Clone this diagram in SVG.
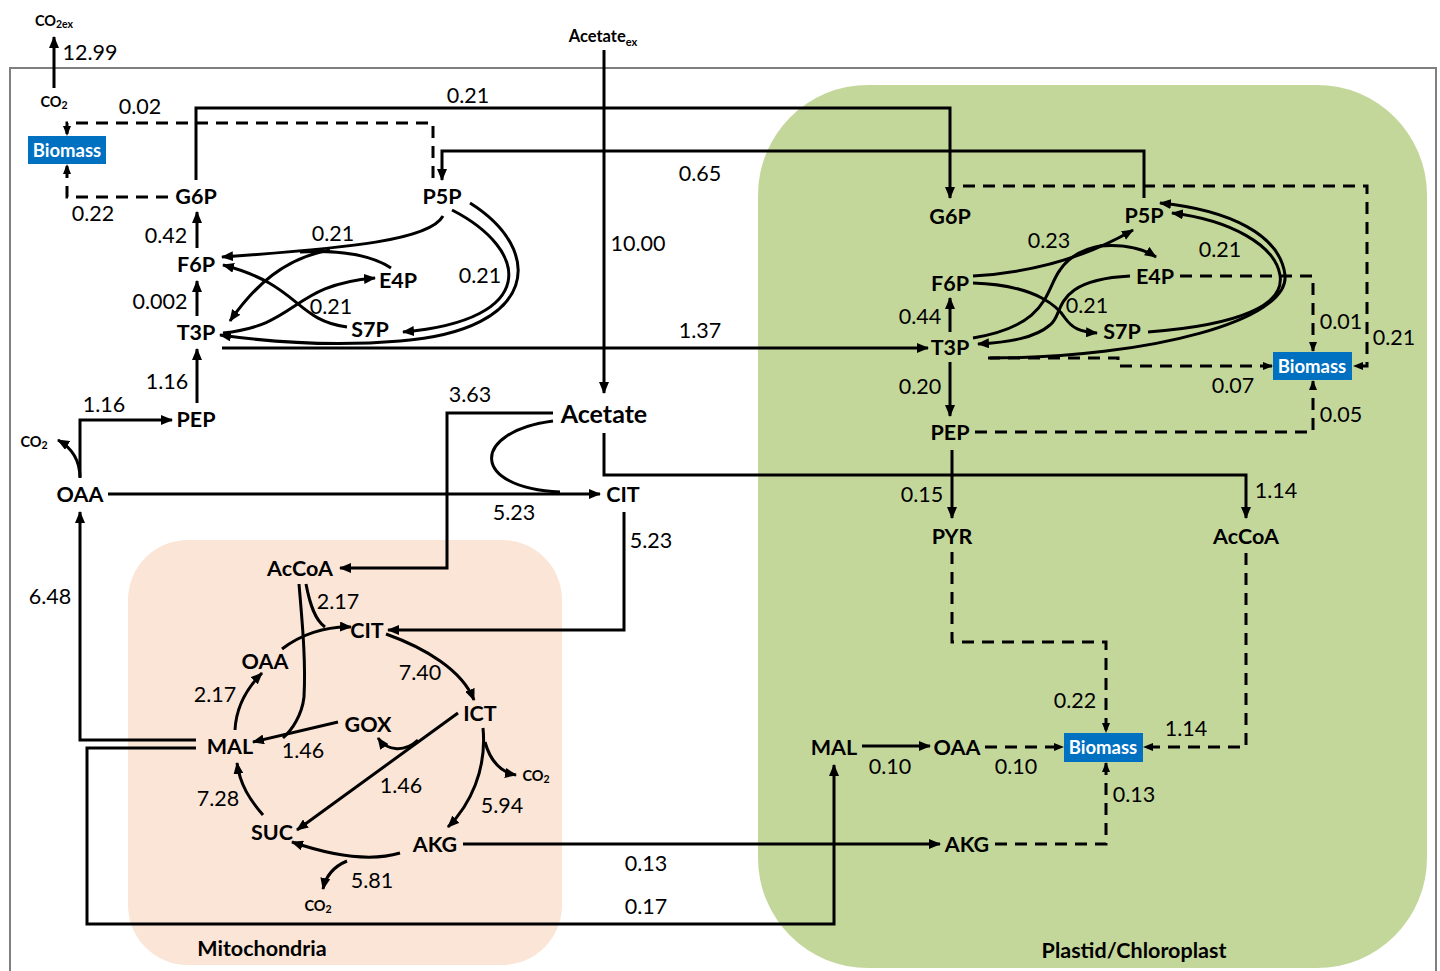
<svg xmlns="http://www.w3.org/2000/svg" width="1440" height="971" viewBox="0 0 1440 971">
<style>
.c{fill:none;stroke:#000;stroke-width:3}
.d{fill:none;stroke:#000;stroke-width:3;stroke-dasharray:12 8}
.n{font-family:Lato,"Open Sans",sans-serif;font-weight:700;font-size:21.5px;text-anchor:middle;dominant-baseline:central;fill:#000}
.s{font-family:Lato,"Open Sans",sans-serif;font-weight:700;font-size:14.5px;text-anchor:middle;dominant-baseline:central;fill:#000}
.v{font-family:Lato,"Open Sans",sans-serif;font-weight:400;font-size:21.5px;text-anchor:middle;dominant-baseline:central;fill:#000}
.bx{fill:#0070C0}
.bt{font-family:Lato,"Open Sans",sans-serif;font-weight:700;font-size:18.5px;text-anchor:middle;dominant-baseline:central;fill:#fff}
</style>
<defs>
<marker id="a" viewBox="0 0 12 10" markerWidth="12" markerHeight="10" refX="11" refY="5" orient="auto" markerUnits="userSpaceOnUse"><path d="M0,0 L12,5 L0,10 z" fill="#000"/></marker>
<marker id="b" viewBox="0 0 10 8" markerWidth="10" markerHeight="8" refX="9" refY="4" orient="auto" markerUnits="userSpaceOnUse"><path d="M0,0 L10,4 L0,8 z" fill="#000"/></marker>
</defs>
<rect width="1440" height="971" fill="#fff"/>
<rect x="10" y="68" width="1426" height="930" fill="none" stroke="#7f7f7f" stroke-width="2"/>
<rect id="mito" x="128" y="540" width="434" height="425" rx="60" fill="#FBE5D6"/>
<rect id="plastid" x="758" y="85" width="669" height="883" rx="110" fill="#C4D79B"/>

<g id="connectors">
<path class="c" d="M54,88 V37" marker-end="url(#a)"/>
<path class="d" d="M433,178 V123 H67 V135" marker-end="url(#b)"/>
<path class="d" d="M168,197 H67 V165" marker-end="url(#b)"/>
<path class="c" d="M196,180 V108 H950 V198" marker-end="url(#a)"/>
<path class="c" d="M1144,198 V151 H442 V180" marker-end="url(#a)"/>
<path class="c" d="M197,248 V212" marker-end="url(#a)"/>
<path class="c" d="M197,316 V281" marker-end="url(#a)"/>
<path class="c" d="M197,403 V349" marker-end="url(#a)"/>
<path class="c" d="M80,477 V420 H172" marker-end="url(#a)"/>
<path class="c" d="M80,478 C80,460 72,448 58,440" marker-end="url(#a)"/>
<path class="c" d="M108,494 H600" marker-end="url(#a)"/>
<path class="c" d="M553,421 C470,432 470,488 560,492"/>
<path class="c" d="M553,413 H447 V568 H340" marker-end="url(#a)"/>
<path class="c" d="M604,433 V475 H1246 V518" marker-end="url(#a)"/>
<path class="c" d="M604,50 V393" marker-end="url(#a)"/>
<path class="c" d="M624,512 V630 H388" marker-end="url(#a)"/>
<path class="c" d="M222,348 H928" marker-end="url(#a)"/>
<path class="c" d="M196,740 H80 V512" marker-end="url(#a)"/>
<path class="c" d="M196,748 H87 V924 H834 V765" marker-end="url(#a)"/>
<path class="c" d="M463,844 H940" marker-end="url(#a)"/>
<path class="c" d="M443,216 C430,240 350,248 222,257" marker-end="url(#a)"/>
<path class="c" d="M391,268 C370,254 340,250 300,252"/>
<path class="c" d="M330,250 C285,258 255,285 230,321" marker-end="url(#a)"/>
<path class="c" d="M347,327 C295,320 300,285 223,265" marker-end="url(#a)"/>
<path class="c" d="M223,333 C300,325 290,285 375,278" marker-end="url(#a)"/>
<path class="c" d="M452,210 C530,250 540,320 403,332" marker-end="url(#a)"/>
<path class="c" d="M470,203 C545,250 540,330 400,341 C330,347 270,342 220,335" marker-end="url(#a)"/>
<path class="c" d="M306,584 C310,605 315,620 325,627"/>
<path class="c" d="M282,649 C300,635 325,626 351,627" marker-end="url(#a)"/>
<path class="c" d="M299,584 C302,620 306,660 304,697 C302,715 292,730 283,738"/>
<path class="c" d="M338,722 L253,742" marker-end="url(#a)"/>
<path class="c" d="M235,730 C236,710 245,690 262,673" marker-end="url(#a)"/>
<path class="c" d="M386,634 C425,648 462,670 474,700" marker-end="url(#a)"/>
<path class="c" d="M458,713 L297,830" marker-end="url(#a)"/>
<path class="c" d="M418,740 C405,752 388,752 378,738" marker-end="url(#a)"/>
<path class="c" d="M483,728 C487,770 470,805 448,827" marker-end="url(#a)"/>
<path class="c" d="M485,742 C490,760 500,772 516,775" marker-end="url(#a)"/>
<path class="c" d="M400,853 C370,862 330,855 292,842" marker-end="url(#a)"/>
<path class="c" d="M347,861 C335,866 326,875 323,889" marker-end="url(#a)"/>
<path class="c" d="M263,815 C250,800 240,785 237,763" marker-end="url(#a)"/>
<path class="c" d="M950,332 V298" marker-end="url(#a)"/>
<path class="c" d="M950,362 V416" marker-end="url(#a)"/>
<path class="c" d="M952,450 V518" marker-end="url(#a)"/>
<path class="c" d="M862,746 H930" marker-end="url(#a)"/>
<path class="c" d="M973,276 C1040,272 1090,255 1133,230" marker-end="url(#a)"/>
<path class="c" d="M1100,246 C1125,244 1142,248 1156,257" marker-end="url(#a)"/>
<path class="c" d="M973,338 C1050,325 1045,290 1060,270 C1070,255 1085,248 1105,245"/>
<path class="c" d="M1130,276 C1050,280 1065,315 1050,325 C1035,338 1010,342 978,344" marker-end="url(#a)"/>
<path class="c" d="M973,283 C1040,285 1060,310 1065,318 C1072,328 1080,332 1097,333" marker-end="url(#a)"/>
<path class="c" d="M1148,332 C1240,325 1285,305 1280,275 C1275,245 1230,220 1172,213" marker-end="url(#a)"/>
<path class="c" d="M990,358 C1150,358 1290,320 1285,275 C1280,235 1230,210 1160,203" marker-end="url(#a)"/>
<path class="d" d="M963,186 H1367 V366 H1354" marker-end="url(#b)"/>
<path class="d" d="M1180,276 H1313 V351" marker-end="url(#b)"/>
<path class="d" d="M988,358 H1118 V366 H1272" marker-end="url(#b)"/>
<path class="d" d="M975,432 H1313 V381" marker-end="url(#b)"/>
<path class="d" d="M952,552 V642 H1106 V732" marker-end="url(#b)"/>
<path class="d" d="M1246,553 V747 H1144" marker-end="url(#b)"/>
<path class="d" d="M985,747 H1063" marker-end="url(#b)"/>
<path class="d" d="M995,844 H1106 V763" marker-end="url(#b)"/>
</g>

<g id="labels">
<text class="v" x="90" y="52">12.99</text>
<text class="v" x="140" y="106">0.02</text>
<text class="v" x="468" y="95">0.21</text>
<text class="v" x="93" y="213">0.22</text>
<text class="v" x="700" y="173">0.65</text>
<text class="v" x="166" y="235">0.42</text>
<text class="v" x="333" y="233">0.21</text>
<text class="v" x="160" y="301">0.002</text>
<text class="v" x="331" y="306">0.21</text>
<text class="v" x="480" y="275">0.21</text>
<text class="v" x="638" y="243">10.00</text>
<text class="v" x="700" y="330">1.37</text>
<text class="v" x="167" y="381">1.16</text>
<text class="v" x="104" y="404">1.16</text>
<text class="v" x="470" y="394">3.63</text>
<text class="v" x="514" y="512">5.23</text>
<text class="v" x="651" y="540">5.23</text>
<text class="v" x="50" y="596">6.48</text>
<text class="v" x="338" y="601">2.17</text>
<text class="v" x="420" y="672">7.40</text>
<text class="v" x="215" y="694">2.17</text>
<text class="v" x="303" y="750">1.46</text>
<text class="v" x="401" y="785">1.46</text>
<text class="v" x="502" y="805">5.94</text>
<text class="v" x="218" y="798">7.28</text>
<text class="v" x="372" y="880">5.81</text>
<text class="v" x="646" y="863">0.13</text>
<text class="v" x="646" y="906">0.17</text>
<text class="v" x="1049" y="240">0.23</text>
<text class="v" x="1220" y="249">0.21</text>
<text class="v" x="1087" y="305">0.21</text>
<text class="v" x="920" y="316">0.44</text>
<text class="v" x="1341" y="321">0.01</text>
<text class="v" x="1394" y="337">0.21</text>
<text class="v" x="920" y="386">0.20</text>
<text class="v" x="1233" y="385">0.07</text>
<text class="v" x="1341" y="414">0.05</text>
<text class="v" x="922" y="494">0.15</text>
<text class="v" x="1276" y="490">1.14</text>
<text class="v" x="1075" y="700">0.22</text>
<text class="v" x="1186" y="728">1.14</text>
<text class="v" x="890" y="766">0.10</text>
<text class="v" x="1016" y="766">0.10</text>
<text class="v" x="1134" y="794">0.13</text>
<text class="n" x="262" y="948">Mitochondria</text>
<text class="n" x="1134" y="950">Plastid/Chloroplast</text>
</g>

<g id="n-co2ex"><text class="s" x="54" y="20">CO<tspan font-size="10.5" dy="4">2ex</tspan></text></g>
<g id="n-co2-top"><text class="s" x="54" y="101">CO<tspan font-size="10.5" dy="4">2</tspan></text></g>
<g id="n-biomass-c"><rect class="bx" x="28" y="136" width="78" height="28"/><text class="bt" x="67" y="150">Biomass</text></g>
<g id="n-g6p-c"><text class="n" x="196" y="196">G6P</text></g>
<g id="n-p5p-c"><text class="n" x="442" y="196">P5P</text></g>
<g id="n-f6p-c"><text class="n" x="196" y="264">F6P</text></g>
<g id="n-e4p-c"><text class="n" x="398" y="280">E4P</text></g>
<g id="n-s7p-c"><text class="n" x="370" y="329">S7P</text></g>
<g id="n-t3p-c"><text class="n" x="196" y="332">T3P</text></g>
<g id="n-pep-c"><text class="n" x="196" y="419">PEP</text></g>
<g id="n-co2-oaa"><text class="s" x="34" y="441">CO<tspan font-size="10.5" dy="4">2</tspan></text></g>
<g id="n-oaa-c"><text class="n" x="80" y="494">OAA</text></g>
<g id="n-acetate-ex"><text class="s" x="603" y="36" style="font-size:16.5px">Acetate<tspan style="font-size:11px" dy="5">ex</tspan></text></g>
<g id="n-acetate"><text class="n" x="604" y="413" style="font-size:25px">Acetate</text></g>
<g id="n-cit-c"><text class="n" x="623" y="494">CIT</text></g>

<g id="n-accoa-m"><text class="n" x="300" y="568">AcCoA</text></g>
<g id="n-cit-m"><text class="n" x="367" y="630">CIT</text></g>
<g id="n-oaa-m"><text class="n" x="265" y="661">OAA</text></g>
<g id="n-ict-m"><text class="n" x="480" y="713">ICT</text></g>
<g id="n-gox-m"><text class="n" x="368" y="724">GOX</text></g>
<g id="n-mal-m"><text class="n" x="230" y="746">MAL</text></g>
<g id="n-suc-m"><text class="n" x="272" y="832">SUC</text></g>
<g id="n-akg-m"><text class="n" x="435" y="844">AKG</text></g>
<g id="n-co2-ict"><text class="s" x="536" y="775">CO<tspan font-size="10.5" dy="4">2</tspan></text></g>
<g id="n-co2-akg"><text class="s" x="318" y="905">CO<tspan font-size="10.5" dy="4">2</tspan></text></g>

<g id="n-g6p-p"><text class="n" x="950" y="216">G6P</text></g>
<g id="n-p5p-p"><text class="n" x="1144" y="215">P5P</text></g>
<g id="n-f6p-p"><text class="n" x="950" y="283">F6P</text></g>
<g id="n-e4p-p"><text class="n" x="1155" y="276">E4P</text></g>
<g id="n-s7p-p"><text class="n" x="1122" y="331">S7P</text></g>
<g id="n-t3p-p"><text class="n" x="950" y="347">T3P</text></g>
<g id="n-biomass-p1"><rect class="bx" x="1273" y="352" width="79" height="28"/><text class="bt" x="1312" y="366">Biomass</text></g>
<g id="n-pep-p"><text class="n" x="950" y="432">PEP</text></g>
<g id="n-pyr-p"><text class="n" x="952" y="536">PYR</text></g>
<g id="n-accoa-p"><text class="n" x="1246" y="536">AcCoA</text></g>
<g id="n-mal-p"><text class="n" x="834" y="747">MAL</text></g>
<g id="n-oaa-p"><text class="n" x="957" y="747">OAA</text></g>
<g id="n-biomass-p2"><rect class="bx" x="1064" y="733" width="79" height="29"/><text class="bt" x="1103" y="747">Biomass</text></g>
<g id="n-akg-p"><text class="n" x="967" y="844">AKG</text></g>
</svg>
